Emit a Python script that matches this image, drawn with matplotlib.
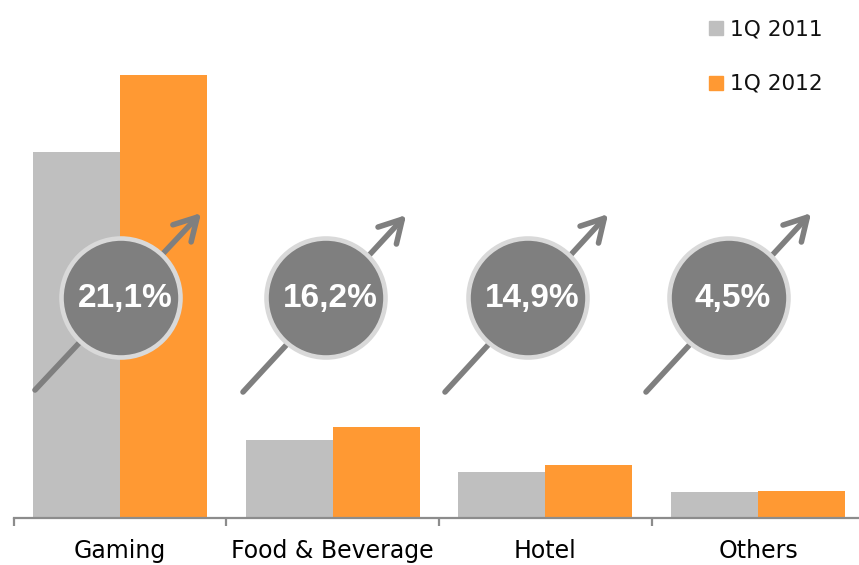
import numpy as np
import matplotlib.pyplot as plt
from matplotlib.patches import Circle, Rectangle

# Ingresos por segmento (escala relativa)
categories = ['Gaming', 'Food & Beverage', 'Hotel', 'Others']
q1_2011 = [366, 78, 46, 26]
q1_2012 = [443, 91, 53, 27.2]
growth = ['21,1%', '16,2%', '14,9%', '4,5%']
series_names = ['1Q 2011', '1Q 2012']

gray = '#bfbfbf'
orange = '#ff9933'
dark = '#7f7f7f'

fig = plt.figure(figsize=(8.59, 5.65), dpi=100)
ax = fig.add_axes([13.7 / 859, 47 / 565, 850.7 / 859, 518 / 565])

x = np.arange(len(categories))
w = 0.409
ax.bar(x - w / 2, q1_2011, w, color=gray, zorder=2)
ax.bar(x + w / 2, q1_2012, w, color=orange, zorder=2)

ax.set_xlim(-0.5, len(categories) - 0.5)
ax.set_ylim(0, 518)
for s in ['top', 'right', 'left']:
    ax.spines[s].set_visible(False)
ax.spines['bottom'].set_color('#8c8c8c')
ax.spines['bottom'].set_linewidth(1.6)
ax.set_yticks([])
ax.set_xticks(x)
ax.set_xticklabels(categories, fontsize=17, family='DejaVu Sans')
ax.set_xticks(np.arange(-0.5, len(categories)), minor=True)
ax.tick_params(axis='x', which='major', length=0, pad=15)
ax.tick_params(axis='x', which='minor', length=6, width=1.6, color='#8c8c8c')

# capa superior en píxeles para flechas, círculos y leyenda
ov = fig.add_axes([0, 0, 1, 1], zorder=5)
ov.set_xlim(0, 859)
ov.set_ylim(565, 0)
ov.axis('off')

badge_x = [121, 326, 528, 729]
badge_y = 298
arrow_start = [(35, 390), (243, 392), (445, 392), (646, 392)]
arrow_end = [(203, 211), (408, 213), (610, 212), (813, 211)]

for i in range(len(categories)):
    ov.annotate('', xy=arrow_end[i], xytext=arrow_start[i],
                arrowprops=dict(arrowstyle='->,head_length=0.8,head_width=0.45',
                                color=dark, lw=4, mutation_scale=20,
                                shrinkA=0, shrinkB=2))
    ov.add_patch(Circle((badge_x[i], badge_y), 59.5, facecolor=dark,
                        edgecolor='#d9d9d9', lw=3.3, zorder=3))
    ov.text(badge_x[i] + 4, badge_y, growth[i], color='white', fontsize=24,
            fontweight='bold', family='Liberation Sans',
            ha='center', va='center', zorder=4)

# leyenda
for j, (name, c) in enumerate(zip(series_names, [gray, orange])):
    yy = 28 + j * 55
    ov.add_patch(Rectangle((709, yy - 7), 14, 14, color=c))
    ov.text(730, yy + 1, name, fontsize=15.6, family='DejaVu Sans',
            ha='left', va='center', color='#111111')

fig.savefig('out.png', dpi=100)
